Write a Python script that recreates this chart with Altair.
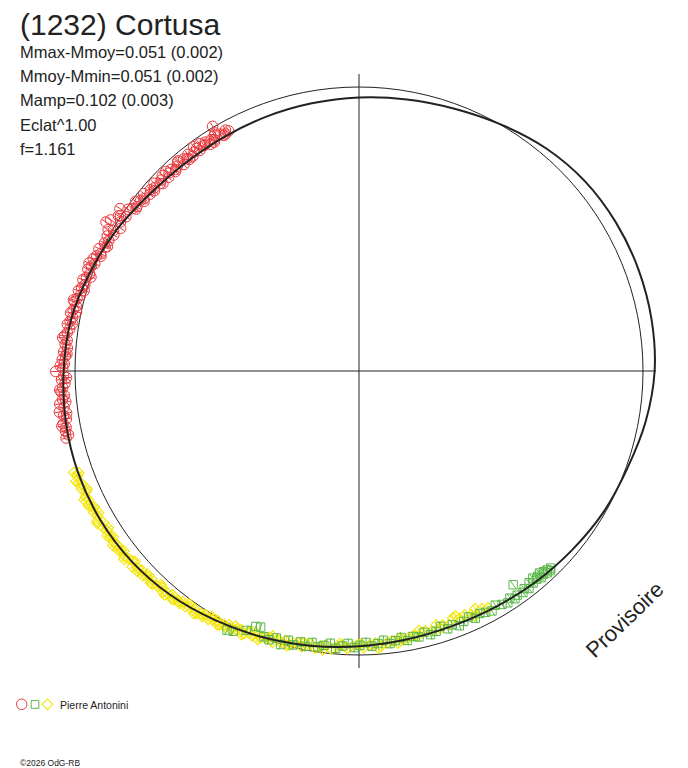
import altair as alt
import pandas as pd

# ---------------- data (polar angle in degrees, magnitude deviation from the mean) ----------------
model_angle = [0, 10, 20, 30, 40, 50, 60, 70, 80, 90, 100, 110, 120, 130, 140, 150, 160, 170,
               180, 190, 200, 210, 220, 230, 240, 250, 260, 270, 280, 290, 300, 310, 320, 330,
               340, 350]
model_dm = [-0.041, -0.046, -0.047, -0.045, -0.039, -0.024, -0.002, 0.017, 0.029, 0.037,
            0.043, 0.047, 0.049, 0.046, 0.035, 0.012, -0.009, -0.030, -0.040, -0.048,
            -0.052, -0.051, -0.044, -0.031, -0.013, 0.003, 0.018, 0.031, 0.040, 0.044,
            0.040, 0.031, 0.020, 0.006, -0.005, -0.025]

red_angle = [118.5, 119.0, 119.8, 120.3, 120.9, 121.5, 122.0, 122.6, 123.2, 123.9,
             124.5, 125.1, 125.8, 126.4, 127.0, 127.7, 128.3, 129.0, 129.6, 130.3,
             131.0, 131.6, 132.3, 133.0, 133.8, 134.5, 135.2, 136.0, 136.7, 137.5,
             138.2, 139.0, 139.8, 140.5, 141.3, 142.0, 142.8, 143.5, 144.3, 145.0,
             145.8, 146.5, 147.2, 148.0, 148.7, 149.5, 150.2, 151.0, 151.8, 152.5,
             153.3, 154.0, 154.8, 155.6, 156.3, 157.1, 157.9, 158.6, 159.4, 160.2,
             161.0, 161.7, 162.5, 163.3, 164.0, 164.8, 165.6, 166.3, 167.1, 167.9,
             168.6, 169.4, 170.2, 170.9, 171.7, 172.5, 173.2, 174.0, 174.8, 175.5,
             176.3, 177.1, 177.8, 178.6, 179.4, 180.1, 180.9, 181.7, 182.4, 183.2,
             184.0, 184.7, 185.5, 186.3, 187.0, 187.8, 188.6, 189.3, 190.1, 190.9,
             191.6, 192.4, 119.4, 121.2, 122.3, 124.1, 126.1, 128.7, 130.7, 132.6,
             134.1, 136.3, 138.6, 141.7, 144.0, 146.9, 149.1, 150.6, 153.7, 156.0,
             158.2, 160.7, 163.7, 166.0, 168.2, 170.6, 173.6, 176.7, 179.0, 181.3,
             183.6, 186.0, 188.2, 190.5, 192.9]
red_dm = [0.038, 0.030, 0.044, 0.034, -0.004, 0.026, 0.040, 0.033, 0.046, 0.029,
          0.037, 0.022, 0.042, 0.019, 0.035, 0.044, 0.028, 0.038, 0.031, 0.047,
          0.026, 0.036, 0.041, 0.029, 0.034, 0.044, 0.024, 0.032, 0.038, 0.021,
          0.033, 0.027, 0.036, 0.018, 0.030, 0.024, 0.012, 0.027, 0.019, 0.007,
          -0.018, 0.016, -0.008, 0.010, -0.024, -0.034, 0.004, 0.013, -0.006, 0.007,
          -0.003, 0.006, -0.012, 0.001, -0.009, -0.016, -0.004, -0.012, -0.020, -0.008,
          -0.015, -0.024, -0.012, -0.020, -0.028, -0.017, -0.025, -0.032, -0.021, -0.029,
          -0.036, -0.026, -0.032, -0.040, -0.029, -0.036, -0.044, -0.033, -0.039, -0.030,
          -0.042, -0.035, -0.046, -0.038, -0.043, -0.068, -0.040, -0.048, -0.036, -0.045,
          -0.052, -0.041, -0.049, -0.060, -0.046, -0.065, -0.052, -0.044, -0.058, -0.050,
          -0.055, -0.047, 0.042, 0.020, 0.047, 0.036, 0.030, 0.045, 0.024, 0.046,
          0.022, 0.045, 0.040, 0.036, 0.030, -0.002, 0.022, -0.014, 0.012, 0.006,
          -0.024, 0.000, -0.008, -0.036, -0.016, -0.022, -0.050, -0.030, -0.052, -0.030,
          -0.056, -0.038, -0.040, -0.064, -0.058]

yellow_angle = [199.6, 200.4, 201.3, 202.1, 203.0, 203.8, 204.7, 205.5, 206.4, 207.2,
                208.1, 208.9, 209.8, 210.6, 211.5, 212.3, 213.2, 214.0, 214.9, 215.7,
                216.6, 217.4, 218.3, 219.1, 220.0, 220.8, 221.7, 222.5, 223.4, 224.2,
                225.1, 225.9, 226.8, 227.6, 228.5, 229.3, 230.2, 231.0, 231.9, 232.7,
                233.6, 234.4, 235.3, 236.1, 237.0, 237.8, 238.7, 239.5, 240.4, 241.2,
                242.1, 242.9, 243.8, 244.6, 245.5, 246.3, 247.2, 248.0, 248.9, 249.7,
                250.6, 251.4, 252.3, 253.1, 254.0, 254.8, 255.7, 256.5, 257.4, 258.2,
                259.1, 260.0, 261.0, 262.1, 263.2, 264.3, 265.4, 266.5, 267.6, 268.7,
                269.8, 271.0, 272.2, 273.4, 274.6, 275.8, 277.0, 278.2, 279.4, 280.6,
                281.8, 283.0, 284.3, 285.6, 286.9, 288.2, 289.5, 290.8, 292.1, 293.4,
                294.7, 296.0, 297.3, 298.6, 200.0, 201.8, 203.4, 205.1, 206.8, 208.5,
                210.2, 212.0, 213.6, 215.3, 217.0, 218.7, 220.4, 222.1, 223.8, 225.5,
                227.2, 229.0, 230.6, 232.3, 234.0, 235.7, 237.4, 239.1, 240.8, 242.5,
                244.2, 246.0, 247.6, 249.3, 252.0, 255.2, 258.6, 262.6, 266.0, 270.4,
                274.0, 278.8, 282.4, 287.5, 291.5, 295.4]
yellow_dm = [-0.066, -0.058, -0.070, -0.054, -0.062, -0.049, -0.060, -0.055, -0.064, -0.048,
             -0.058, -0.052, -0.063, -0.047, -0.056, -0.050, -0.060, -0.044, -0.054, -0.049,
             -0.057, -0.043, -0.052, -0.047, -0.041, -0.055, -0.044, -0.038, -0.048, -0.040,
             -0.034, -0.045, -0.038, -0.030, -0.040, -0.033, -0.026, -0.036, -0.029, -0.022,
             -0.031, -0.024, -0.018, -0.028, -0.020, -0.014, -0.023, -0.016, -0.010, -0.019,
             -0.012, -0.004, -0.015, -0.007, -0.001, -0.010, 0.003, -0.006, 0.008, -0.002,
             0.004, 0.010, -0.003, 0.012, 0.006, 0.016, 0.004, 0.014, 0.020, 0.009,
             0.018, 0.024, 0.012, 0.022, 0.028, 0.016, 0.026, 0.033, 0.022, 0.030,
             0.036, 0.026, 0.034, 0.040, 0.029, 0.037, 0.043, 0.032, 0.040, 0.046,
             0.050, 0.062, 0.056, 0.048, 0.066, 0.058, 0.052, 0.070, 0.060, 0.064,
             0.055, 0.068, 0.058, 0.050, -0.050, -0.064, -0.044, -0.068, -0.056, -0.044,
             -0.066, -0.042, -0.052, -0.062, -0.050, -0.060, -0.036, -0.052, -0.033, -0.046,
             -0.026, -0.044, -0.038, -0.034, -0.015, -0.033, -0.026, -0.008, -0.024, -0.018,
             0.002, -0.016, 0.008, -0.010, 0.018, 0.000, 0.024, 0.010, 0.038, 0.040,
             0.022, 0.048, 0.044, 0.050, 0.072, 0.046]

green_angle = [243.0, 244.2, 246.5, 248.0, 249.0, 250.3, 251.5, 252.8, 254.0, 255.3,
               256.5, 257.8, 259.0, 260.2, 261.5, 262.7, 264.0, 265.2, 266.5, 267.7,
               269.0, 270.2, 271.5, 272.7, 274.0, 275.2, 276.5, 277.7, 279.0, 280.2,
               281.5, 282.7, 284.0, 285.2, 286.5, 287.7, 289.0, 290.2, 291.5, 292.7,
               294.0, 295.2, 296.5, 297.7, 299.0, 300.2, 301.5, 302.7, 303.6, 304.4,
               305.2, 305.8, 306.5, 307.2, 308.0, 308.8, 309.4, 310.0, 310.5, 311.0,
               311.4, 311.8, 312.2, 312.6, 313.0, 313.4, 313.8, 314.2]
green_dm = [-0.024, -0.018, 0.004, 0.030, 0.034, 0.006, 0.002, 0.016, -0.002, 0.020,
            0.008, 0.024, 0.012, 0.030, 0.018, 0.026, 0.036, 0.020, 0.030, 0.040,
            0.026, 0.034, 0.044, 0.030, 0.038, 0.048, 0.034, 0.042, 0.050, 0.036,
            0.046, 0.040, 0.052, 0.038, 0.044, 0.056, 0.040, 0.048, 0.036, 0.044,
            0.052, 0.038, 0.046, 0.040, 0.034, 0.046, 0.036, 0.030, 0.040, 0.028,
            0.034, 0.072, 0.030, 0.038, 0.028, 0.044, 0.034, 0.048, 0.036, 0.042,
            0.030, 0.046, 0.034, 0.040, 0.028, 0.036, 0.026, 0.032]

# typical radial error bar (mag) of each observer series
red_err, yellow_err, green_err = 0.016, 0.012, 0.018

axis_half = 1.046          # half length of the cross-hair, in units of the mean radius
title_text = "(1232) Cortusa"
info_lines = ["Mmax-Mmoy=0.051 (0.002)", "Mmoy-Mmin=0.051 (0.002)",
              "Mamp=0.102 (0.003)", "Eclat^1.00", "f=1.161"]
observer = "Pierre Antonini"
copyright_text = "©2026 OdG-RB"
stamp = "Provisoire"

# ---------------- layout ----------------
W, H = 672, 760
CX, CY = 351, 363      # pixel position of the polar centre in the view
PX = 284               # pixels per unit radius (mean-magnitude circle)
FONT = "Liberation Sans"
INK = "#222222"
RED, GREEN, YELLOW = "#e8383d", "#5cb84a", "#f4e500"

xs = alt.Scale(domain=[-CX / PX, (W - CX) / PX], nice=False, zero=False)
ys = alt.Scale(domain=[-(H - CY) / PX, CY / PX], nice=False, zero=False)


def polar(df):
    return (alt.Chart(df)
            .transform_calculate(px="(1 - datum.dm) * cos(datum.angle * PI / 180)",
                                 py="(1 - datum.dm) * sin(datum.angle * PI / 180)")
            .encode(x=alt.X("px:Q", scale=xs, axis=None),
                    y=alt.Y("py:Q", scale=ys, axis=None)))


def errbars(df, err, color):
    e = str(err)
    return (alt.Chart(df)
            .transform_calculate(
                ax="(1 - datum.dm - " + e + ") * cos(datum.angle * PI / 180)",
                ay="(1 - datum.dm - " + e + ") * sin(datum.angle * PI / 180)",
                bx="(1 - datum.dm + " + e + ") * cos(datum.angle * PI / 180)",
                by="(1 - datum.dm + " + e + ") * sin(datum.angle * PI / 180)")
            .mark_rule(color=color, strokeWidth=1)
            .encode(x=alt.X("ax:Q", scale=xs, axis=None), x2="bx:Q",
                    y=alt.Y("ay:Q", scale=ys, axis=None), y2="by:Q"))


model_df = pd.DataFrame({"angle": model_angle, "dm": model_dm})
red_df = pd.DataFrame({"angle": red_angle, "dm": red_dm})
yel_df = pd.DataFrame({"angle": yellow_angle, "dm": yellow_dm})
grn_df = pd.DataFrame({"angle": green_angle, "dm": green_dm})

axes_df = pd.DataFrame({"x1": [-axis_half, 0.0], "x2": [axis_half, 0.0],
                        "y1": [0.0, -axis_half], "y2": [0.0, axis_half]})
axes = alt.Chart(axes_df).mark_rule(color=INK, strokeWidth=1).encode(
    x=alt.X("x1:Q", scale=xs, axis=None), x2="x2:Q",
    y=alt.Y("y1:Q", scale=ys, axis=None), y2="y2:Q")

centre_df = pd.DataFrame({"x": [0.0], "y": [0.0]})
mean_circle = alt.Chart(centre_df).mark_point(
    shape="circle", filled=False, size=(2 * PX) ** 2, color=INK, strokeWidth=1, opacity=1
).encode(x=alt.X("x:Q", scale=xs, axis=None), y=alt.Y("y:Q", scale=ys, axis=None))

red_pts = polar(red_df).mark_point(shape="circle", filled=False, size=110,
                                   color=RED, strokeWidth=1, opacity=1)
yel_pts = polar(yel_df).mark_point(shape="diamond", filled=False, size=115,
                                   color=YELLOW, strokeWidth=1.1, opacity=1)
grn_pts = polar(grn_df).mark_point(shape="square", filled=False, size=70,
                                   color=GREEN, strokeWidth=1, opacity=1)
model = polar(model_df).mark_line(interpolate="cardinal-closed", color=INK,
                                  strokeWidth=2).encode(order=alt.Order("angle:Q"))


def label(text, x, y, size, **kw):
    return alt.Chart(pd.DataFrame({"t": [text]})).mark_text(
        font=FONT, fontSize=size, color=INK, align="left", baseline="alphabetic", **kw
    ).encode(text="t:N", x=alt.value(x), y=alt.value(y))


texts = [label(title_text, 12, 27.2, 30)]
for i, line in enumerate(info_lines):
    texts.append(label(line, 12, 49.5 + i * 24.4, 16.5))
texts.append(label(observer, 52, 700.5, 10.5))
texts.append(label(copyright_text, 12, 758, 8.5))
stamp_layer = alt.Chart(pd.DataFrame({"t": [stamp]})).mark_text(
    font=FONT, fontSize=22, color=INK, align="center", baseline="middle", angle=316
).encode(text="t:N", x=alt.value(617), y=alt.value(612))

leg_df = pd.DataFrame({"k": [0]})
leg_red = alt.Chart(leg_df).mark_point(shape="circle", filled=False, size=110, color=RED,
                                       strokeWidth=1, opacity=1).encode(
    x=alt.value(13.7), y=alt.value(696.3))
leg_grn = alt.Chart(leg_df).mark_point(shape="square", filled=False, size=60, color=GREEN,
                                       strokeWidth=1, opacity=1).encode(
    x=alt.value(27), y=alt.value(696.5))
leg_yel = alt.Chart(leg_df).mark_point(shape="diamond", filled=False, size=115, color=YELLOW,
                                       strokeWidth=1.1, opacity=1).encode(
    x=alt.value(39.5), y=alt.value(696.3))

chart = alt.layer(
    mean_circle, axes,
    errbars(red_df, red_err, RED), red_pts,
    errbars(yel_df, yellow_err, YELLOW), yel_pts,
    errbars(grn_df, green_err, GREEN), grn_pts,
    model,
    *texts, stamp_layer, leg_red, leg_grn, leg_yel
).properties(
    width=W, height=H, padding=0, background="white",
    autosize=alt.AutoSizeParams(type="none")
).configure_view(strokeWidth=0)

chart.save("out.html", embed_options={"renderer": "svg", "actions": False})
